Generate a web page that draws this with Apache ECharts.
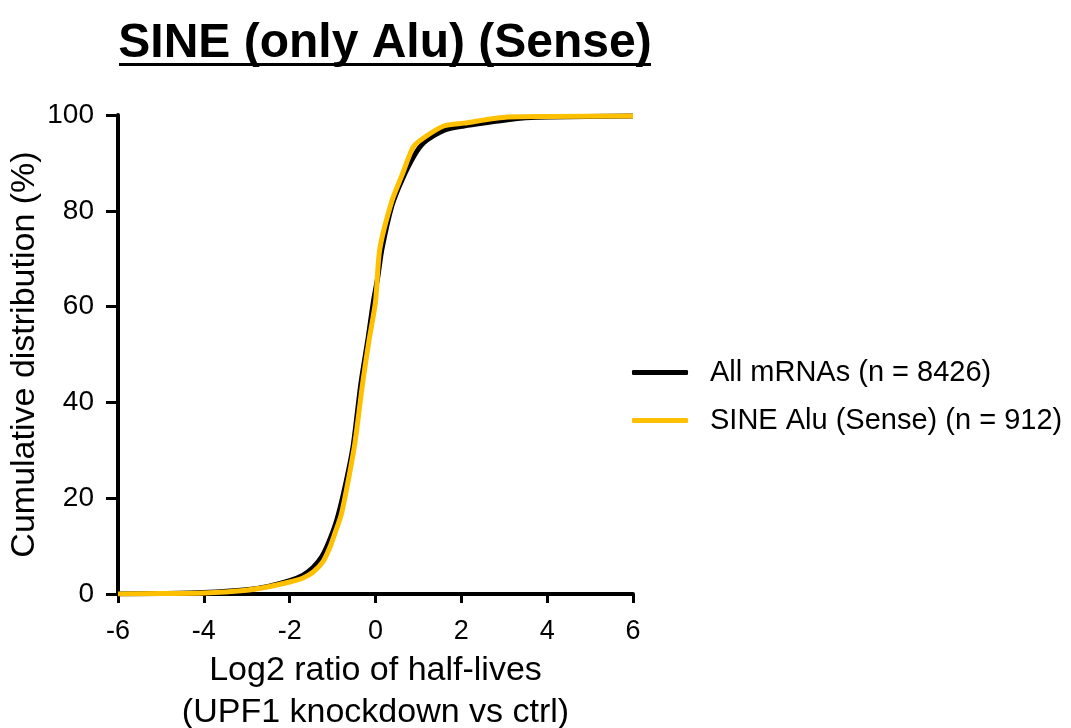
<!DOCTYPE html>
<html>
<head>
<meta charset="utf-8">
<script src="https://cdn.jsdelivr.net/npm/echarts@6/dist/echarts.min.js"></script>
<style>
  html, body { margin: 0; padding: 0; background: #fff; }
  #chart { width: 1071px; height: 728px; }
</style>
</head>
<body>
<div id="chart"></div>
<script>
// tick labels
var xTicks = [-6, -4, -2, 0, 2, 4, 6];
var yTicks = [0, 20, 40, 60, 80, 100];

// All mRNAs (n = 8426): log2 ratio -> cumulative %
var allX = [-6, -5, -4, -3, -2.5, -2, -1.7, -1.45, -1.25, -1.08, -0.9, -0.72, -0.52, -0.34, -0.18, -0.05, 0.05, 0.15, 0.38, 0.62, 0.9, 1.12, 1.59, 2.06, 3.08, 3.5, 4, 6];
var allY = [0, 0.1, 0.3, 0.9, 1.6, 2.8, 3.9, 5.6, 7.8, 11, 15.5, 22, 31, 44, 53, 61, 66, 72, 81, 86.5, 91.5, 94.2, 96.8, 97.7, 99, 99.4, 99.6, 99.8];

// SINE Alu (Sense) (n = 912)
var aluX = [-6, -5, -4, -3, -2.5, -2, -1.7, -1.45, -1.22, -1.06, -0.94, -0.8, -0.65, -0.48, -0.3, -0.15, 0, 0.1, 0.38, 0.62, 0.88, 1.12, 1.59, 2.06, 3.08, 4, 6];
var aluY = [0, 0.1, 0.2, 0.8, 1.5, 2.5, 3.3, 4.6, 6.8, 9.8, 12.8, 16.5, 23, 31.5, 44, 53, 61, 72, 82, 87.5, 93.3, 95.2, 97.7, 98.3, 99.6, 99.7, 99.8];

var legendNames = ['All mRNAs (n = 8426)', 'SINE Alu (Sense) (n = 912)'];

function pairs(xs, ys) {
  return xs.map(function (x, i) { return [x, ys[i]]; });
}

var font = 'Liberation Sans, Arial, sans-serif';
var chart = echarts.init(document.getElementById('chart'));
chart.setOption({
  animation: false,
  title: {
    text: 'SINE (only Alu) (Sense)',
    left: 380,
    top: 15,
    textAlign: 'center',
    textStyle: { fontFamily: font, fontSize: 48, fontWeight: 'bold', color: '#000' }
  },
  graphic: [
    // title underline
    { type: 'rect', shape: { x: 119, y: 63, width: 532, height: 3 }, style: { fill: '#000' } }
  ],
  grid: { left: 118, right: 438, top: 115, bottom: 134, outerBoundsMode: 'none' },
  legend: {
    orient: 'vertical',
    left: 627,
    top: 353,
    itemWidth: 56,
    itemHeight: 5,
    itemGap: 19,
    icon: 'roundRect',
    textStyle: { fontFamily: font, fontSize: 29, color: '#000', padding: [0, 0, 0, 17] },
    data: legendNames
  },
  xAxis: {
    type: 'value',
    min: -6, max: 6, interval: 2,
    name: 'Log2 ratio of half-lives\n(UPF1 knockdown vs ctrl)',
    nameLocation: 'middle',
    nameGap: 56,
    nameTextStyle: { fontFamily: font, fontSize: 34, color: '#000', lineHeight: 42, verticalAlign: 'top' },
    axisLine: { lineStyle: { color: '#000', width: 4 } },
    axisTick: { length: 9, lineStyle: { color: '#000', width: 3 } },
    axisLabel: { fontFamily: font, fontSize: 27, color: '#000', margin: 24,
      formatter: function (v) { return xTicks.indexOf(v) >= 0 ? String(v) : ''; } },
    splitLine: { show: false }
  },
  yAxis: {
    type: 'value',
    min: 0, max: 100, interval: 20,
    name: 'Cumulative distribution (%)',
    nameLocation: 'middle',
    nameGap: 76,
    nameTextStyle: { fontFamily: font, fontSize: 34, color: '#000' },
    axisLine: { show: true, onZero: false, lineStyle: { color: '#000', width: 4 } },
    axisTick: { show: true, length: 12, lineStyle: { color: '#000', width: 3 } },
    axisLabel: { fontFamily: font, fontSize: 28, color: '#000', margin: 24,
      formatter: function (v) { return yTicks.indexOf(v) >= 0 ? String(v) : ''; } },
    splitLine: { show: false }
  },
  series: [
    {
      name: legendNames[0],
      type: 'line',
      symbol: 'none',
      smooth: 0.25,
      lineStyle: { color: '#000', width: 5 },
      itemStyle: { color: '#000' },
      data: pairs(allX, allY)
    },
    {
      name: legendNames[1],
      type: 'line',
      symbol: 'none',
      smooth: 0.25,
      lineStyle: { color: '#FFC000', width: 5 },
      itemStyle: { color: '#FFC000' },
      data: pairs(aluX, aluY)
    }
  ]
});
</script>
</body>
</html>
